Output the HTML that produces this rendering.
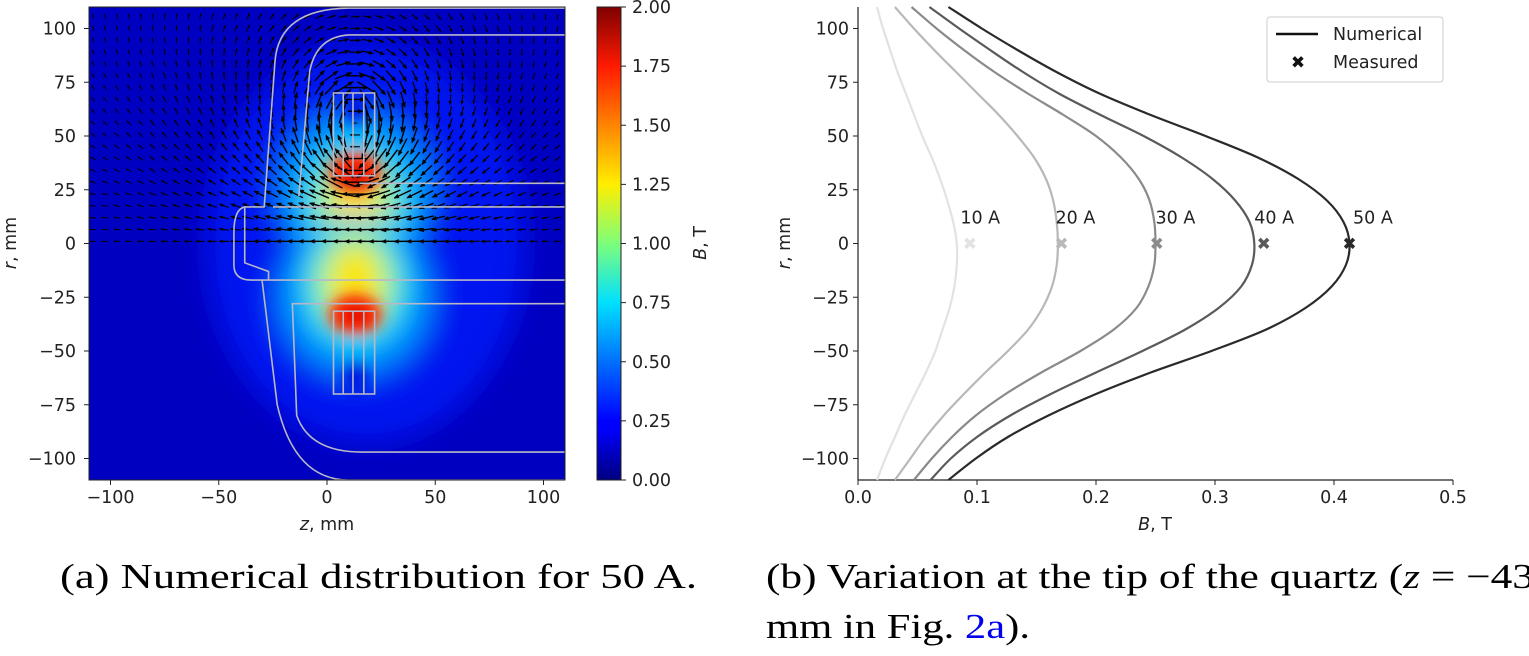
<!DOCTYPE html>
<html><head><meta charset="utf-8"><style>
html,body{margin:0;padding:0;background:#fff;}
svg{display:block;font-family:"DejaVu Sans","Liberation Sans",sans-serif;}
.tk{font-size:17.5px;fill:#222;}
.cap{font-family:"Liberation Serif",serif;font-size:35px;fill:#000;}
</style></head><body>
<svg id="fig" width="1529" height="656" viewBox="0 0 1529 656">
<defs>
<clipPath id="clipL"><rect x="89" y="7" width="476" height="473"/></clipPath>
<filter id="blur1" x="-50%" y="-50%" width="200%" height="200%"><feGaussianBlur stdDeviation="14"/></filter>
<filter id="blur2" x="-50%" y="-50%" width="200%" height="200%"><feGaussianBlur stdDeviation="7"/></filter>
<linearGradient id="jet" x1="0" y1="1" x2="0" y2="0">
<stop offset="0" stop-color="#000080"/><stop offset="0.11" stop-color="#0000ff"/>
<stop offset="0.125" stop-color="#0000ff"/><stop offset="0.375" stop-color="#00e0ff"/>
<stop offset="0.5" stop-color="#7dff7a"/><stop offset="0.625" stop-color="#ffee00"/>
<stop offset="0.875" stop-color="#ff1a00"/><stop offset="1" stop-color="#800000"/>
</linearGradient>
</defs>
<g id="left">
<g clip-path="url(#clipL)" id="heat"></g>
<rect x="89" y="7" width="476" height="473" fill="none" stroke="#222" stroke-width="1"/>
<g id="laxes"></g>
<text x="327" y="530" text-anchor="middle" class="tk"><tspan font-style="italic">z</tspan>, mm</text>
<text transform="translate(16,243) rotate(-90)" text-anchor="middle" class="tk"><tspan font-style="italic">r</tspan>, mm</text>
<rect x="597" y="7" width="24" height="473" fill="url(#jet)" stroke="#222" stroke-width="1"/>
<g id="cbaxes"></g>
<text transform="translate(706,243) rotate(-90)" text-anchor="middle" class="tk"><tspan font-style="italic">B</tspan>, T</text>
</g>
<g id="right">
<g id="raxes"></g>
<g id="curves"></g>
<g>
<rect x="1267" y="17" width="176" height="65" rx="3" fill="#fff" stroke="#ccc"/>
<line x1="1276" y1="34" x2="1318" y2="34" stroke="#111" stroke-width="2.5"/>
<text x="1333" y="40" class="tk">Numerical</text>
<text x="1298" y="68" text-anchor="middle" font-size="17" font-weight="bold" fill="#111">✖</text>
<text x="1333" y="68" class="tk">Measured</text>
</g>
<text x="1155" y="530" text-anchor="middle" class="tk"><tspan font-style="italic">B</tspan>, T</text>
<text transform="translate(790,243) rotate(-90)" text-anchor="middle" class="tk"><tspan font-style="italic">r</tspan>, mm</text>
</g>
<text x="60" y="588" class="cap" textLength="637" lengthAdjust="spacingAndGlyphs">(a) Numerical distribution for 50 A.</text>
<text x="766" y="588" class="cap" textLength="768" lengthAdjust="spacingAndGlyphs">(b) Variation at the tip of the quartz (<tspan font-style="italic">z</tspan> = −43</text>
<text x="766" y="638" class="cap" textLength="264" lengthAdjust="spacingAndGlyphs">mm in Fig. <tspan fill="#0000ee">2a</tspan>).</text>
</svg>
<script>
const NS='http://www.w3.org/2000/svg';
// ---- data ----
const zTicks=[-100,-50,0,50,100];
const rTicks=[100,75,50,25,0,-25,-50,-75,-100];
const cbTicks=[0,0.25,0.5,0.75,1.0,1.25,1.5,1.75,2.0];
const cbLabels=['0.00','0.25','0.50','0.75','1.00','1.25','1.50','1.75','2.00'];
const bTicks=[0,0.1,0.2,0.3,0.4,0.5];
const bLabels=['0.0','0.1','0.2','0.3','0.4','0.5'];
const rVals=[110,100,90,80,70,60,50,40,30,20,10,0,-10,-20,-30,-40,-50,-60,-70,-80,-90,-100,-110];
const b10=[0.016,0.021,0.027,0.033,0.040,0.047,0.054,0.062,0.069,0.075,0.080,0.083,0.083,0.081,0.077,0.071,0.065,0.057,0.048,0.039,0.031,0.023,0.016];
const b20=[0.031,0.047,0.064,0.082,0.100,0.118,0.134,0.148,0.158,0.164,0.167,0.168,0.167,0.163,0.155,0.143,0.126,0.107,0.089,0.072,0.057,0.044,0.031];
const b30=[0.045,0.066,0.089,0.114,0.142,0.172,0.200,0.221,0.236,0.245,0.249,0.250,0.249,0.244,0.234,0.215,0.187,0.154,0.124,0.099,0.079,0.062,0.047];
const b40=[0.060,0.085,0.111,0.138,0.168,0.203,0.240,0.272,0.298,0.317,0.329,0.333,0.331,0.322,0.303,0.275,0.239,0.200,0.162,0.128,0.100,0.078,0.061];
const b50=[0.076,0.104,0.134,0.166,0.202,0.245,0.292,0.336,0.370,0.394,0.408,0.413,0.410,0.398,0.376,0.343,0.297,0.246,0.200,0.160,0.126,0.099,0.076];
const seriesNames=['10 A','20 A','30 A','40 A','50 A'];
const measured=[0.094,0.171,0.251,0.341,0.413];
const labelB=[0.086,0.166,0.250,0.333,0.416];
const colors=['#e2e2e2','#b8b8b8','#8a8a8a','#5a5a5a','#2a2a2a'];
const allSeries=[b10,b20,b30,b40,b50];
// ---- scales ----
const X=z=>327+z*2.165, Y=r=>243.5-r*2.15, CB=v=>480-v*236.5, BX=b=>858+b*1190;
function el(tag,attrs,parent){const e=document.createElementNS(NS,tag);for(const k in attrs)e.setAttribute(k,attrs[k]);parent.appendChild(e);return e;}
// left axes
const la=document.getElementById('laxes');
zTicks.forEach(t=>{const l=el('line',{x1:X(t),x2:X(t),y1:480,y2:485,stroke:'#222'},la);


const tx=el('text',{x:X(t),y:503,'text-anchor':'middle',class:'tk'},la);tx.textContent=String(t).replace('-','−');

});
rTicks.forEach(t=>{const l=el('line',{x1:84,x2:89,y1:Y(t),y2:Y(t),stroke:'#222'},la);


const tx=el('text',{x:76,y:Y(t)+6,'text-anchor':'end',class:'tk'},la);tx.textContent=String(t).replace('-','−');

});
const cba=document.getElementById('cbaxes');
cbTicks.forEach((t,i)=>{const l=el('line',{x1:621,x2:626,y1:CB(t),y2:CB(t),stroke:'#222'},cba);


const tx=el('text',{x:632,y:CB(t)+6,class:'tk'},cba);tx.textContent=cbLabels[i];

});
// heatmap approximation
const h=document.getElementById('heat');
el('rect',{x:89,y:7,width:476,height:473,fill:'#0000c0'},h);
const hb=el('g',{filter:'url(#blur1)'},h);
el('ellipse',{cx:X(18),cy:Y(0),rx:160,ry:200,fill:'#0014f8',opacity:0.85},hb);
[1,-1].forEach(s=>{
el('ellipse',{cx:X(13),cy:Y(s*25),rx:78,ry:80,fill:'#0090ff'},hb);
el('ellipse',{cx:X(13),cy:Y(s*20),rx:55,ry:62,fill:'#00dcf0'},hb);
el('ellipse',{cx:X(13),cy:Y(s*18),rx:38,ry:48,fill:'#90ff60'},hb);
el('ellipse',{cx:X(13),cy:Y(s*18),rx:26,ry:38,fill:'#ffe400'},hb);
});
const hb2=el('g',{filter:'url(#blur2)'},h);
[1,-1].forEach(s=>{
el('ellipse',{cx:X(13),cy:Y(s*33),rx:26,ry:20,fill:'#ff2400'},hb2);
el('ellipse',{cx:X(13),cy:Y(s*62),rx:10,ry:20,fill:'#0010e0'},hb2);
el('ellipse',{cx:X(13),cy:Y(s*50),rx:14,ry:10,fill:'#00c0ff',opacity:0.7},hb2);
});
el('ellipse',{cx:X(13),cy:Y(30),rx:12,ry:8,fill:'#c00000'},hb2);
el('ellipse',{cx:X(13),cy:Y(-33),rx:10,ry:7,fill:'#d00000'},hb2);
// quiver (decorative field arrows) in upper half
const qg=el('g',{stroke:'#000','stroke-width':1,fill:'#000'},h);


const cur=[35,43,51,59,67];
for(let z=-108;z<=110;z+=5.5){for(let r=1;r<=110;r+=5.5){
 let vz=0,vr=0;
 cur.forEach(rc=>{[[rc,1],[-rc,-1]].forEach(([pc,sg])=>{const dz=z-13,dr=r-pc,d2=dz*dz+dr*dr+12;vz+=sg*dr/d2;vr+=sg*(-dz)/d2;});});
 const m=Math.hypot(vz,vr); if(m<1e-9)continue;
 const len=Math.min(25,3+85*m);
 const ux=vz/m,uy=-vr/m, x0=X(z),y0=Y(r);
 const xa=x0-ux*len/2,ya=y0-uy*len/2,xb=x0+ux*len/2,yb=y0+uy*len/2;
 el('line',{x1:xa,y1:ya,x2:xb,y2:yb,'stroke-width':Math.min(1.4,0.7+len/22)},qg);
 const hl=Math.min(4.5,len*0.35),hw=hl*0.5;
 el('path',{d:`M${xb+ux*1},${yb+uy*1} L${xb-ux*hl-uy*hw},${yb-uy*hl+ux*hw} L${xb-ux*hl+uy*hw},${yb-uy*hl-ux*hw}Z`,stroke:'none'},qg);
}}
// geometry outlines
const gg=el('g',{stroke:'#b8b8c8','stroke-width':1.6,fill:'none'},h);


const P=pts=>pts.map((p,i)=>(i?'L':'M')+X(p[0]).toFixed(1)+','+Y(p[1]).toFixed(1)).join(' ');
el('path',{d:`M${X(110)},${Y(109.5)} L${X(10)},${Y(109.5)} Q${X(-22)},${Y(109)} ${X(-24)},${Y(85)} L${X(-29)},${Y(17)} L${X(-38)},${Y(17)} Q${X(-43)},${Y(16)} ${X(-43)},${Y(5)} L${X(-43)},${Y(-10)} Q${X(-43)},${Y(-17)} ${X(-35)},${Y(-17)} L${X(110)},${Y(-17)}`},gg);
el('path',{d:`M${X(110)},${Y(97)} L${X(10)},${Y(97)} Q${X(-5)},${Y(96)} ${X(-8)},${Y(80)} L${X(-13)},${Y(22)}`},gg);
el('path',{d:`M${X(-38)},${Y(17)} L${X(-38)},${Y(-9)} L${X(-27)},${Y(-13)} L${X(-27)},${Y(-17)}`},gg);
el('path',{d:P([[-25,17],[110,17]])},gg);
el('path',{d:P([[15,28],[110,28]])},gg);
el('path',{d:`M${X(-30)},${Y(-17)} L${X(-23)},${Y(-75)} Q${X(-15)},${Y(-110)} ${X(10)},${Y(-110)} L${X(110)},${Y(-110)}`},gg);
el('path',{d:`M${X(110)},${Y(-28)} L${X(-16)},${Y(-28)} L${X(-14)},${Y(-80)} Q${X(-8)},${Y(-97)} ${X(16)},${Y(-97)} L${X(110)},${Y(-97)}`},gg);
[1,-1].forEach(s=>{const r1=s*31.5,r2=s*70;
el('rect',{x:X(3),y:Math.min(Y(r1),Y(r2)),width:X(22)-X(3),height:Math.abs(Y(r2)-Y(r1))},gg);
[7.5,12,17].forEach(z=>el('line',{x1:X(z),x2:X(z),y1:Y(r1),y2:Y(r2)},gg));});
// right axes
const ra=document.getElementById('raxes');
el('line',{x1:858,x2:858,y1:7,y2:480,stroke:'#222','stroke-width':1.2},ra);
el('line',{x1:858,x2:1453,y1:480,y2:480,stroke:'#222','stroke-width':1.2},ra);
bTicks.forEach((t,i)=>{const l=el('line',{x1:BX(t),x2:BX(t),y1:480,y2:485,stroke:'#222'},ra);


const tx=el('text',{x:BX(t),y:503,'text-anchor':'middle',class:'tk'},ra);tx.textContent=bLabels[i];

});
rTicks.forEach(t=>{const l=el('line',{x1:853,x2:858,y1:Y(t),y2:Y(t),stroke:'#222'},ra);


const tx=el('text',{x:849,y:Y(t)+6,'text-anchor':'end',class:'tk'},ra);tx.textContent=String(t).replace('-','−');

});
// curves
const cg=document.getElementById('curves');
function smooth(pts){let d='M'+pts[0][0]+','+pts[0][1];
for(let i=0;i<pts.length-1;i++){const p0=pts[Math.max(0,i-1)],p1=pts[i],p2=pts[i+1],p3=pts[Math.min(pts.length-1,i+2)];
const c1=[p1[0]+(p2[0]-p0[0])/6,p1[1]+(p2[1]-p0[1])/6],c2=[p2[0]-(p3[0]-p1[0])/6,p2[1]-(p3[1]-p1[1])/6];
d+=` C${c1[0].toFixed(1)},${c1[1].toFixed(1)} ${c2[0].toFixed(1)},${c2[1].toFixed(1)} ${p2[0].toFixed(1)},${p2[1].toFixed(1)}`;}return d;}
allSeries.forEach((s,k)=>{
 const pts=s.map((b,i)=>[BX(b),Y(rVals[i])]);
 const p=el('path',{d:smooth(pts),fill:'none',stroke:colors[k],'stroke-width':2.2},cg);
 
 
 const m=el('text',{x:BX(measured[k]),y:Y(0)+6,'text-anchor':'middle','font-size':17,'font-weight':'bold',fill:colors[k]},cg);m.textContent='✖';
 
 
 const t=el('text',{x:BX(labelB[k]),y:Y(12)+6,class:'tk'},cg);t.textContent=seriesNames[k];
 
 
});
</script>
</body></html>
